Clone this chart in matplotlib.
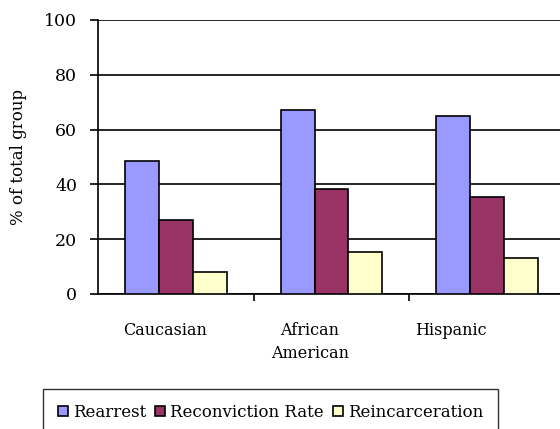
import numpy as np
import matplotlib
matplotlib.use("Agg")
import matplotlib.pyplot as plt

plt.rcParams['font.family'] = ['DejaVu Serif']

# Data
groups = ["Caucasian", "African\nAmerican", "Hispanic"]
series = ["Rearrest", "Reconviction Rate", "Reincarceration"]
rearrest = [48.6, 67.0, 64.8]
reconviction = [26.9, 38.4, 35.5]
reincarceration = [7.9, 15.2, 13.0]
colors = ["#9999FF", "#993366", "#FFFFCC"]

W, H = 560, 429
fig = plt.figure(figsize=(W / 100, H / 100), dpi=100)
ax = fig.add_axes([98 / W, 1 - 294 / H, (565 - 98) / W, (294 - 20) / H])

x = np.arange(len(groups))
bw = 0.218
for i, (vals, c, name) in enumerate(zip([rearrest, reconviction, reincarceration], colors, series)):
    ax.bar(x + (i - 1) * bw, vals, bw, color=c, edgecolor="black", linewidth=1.2,
           label=name, zorder=3)

ax.set_xlim(-0.5, 2.5)
ax.set_ylim(0, 100)
ax.set_yticks([0, 20, 40, 60, 80, 100])
ax.yaxis.grid(True, color="black", linewidth=1.2, zorder=0)
ax.set_axisbelow(True)

# category boundaries as ticks, labels sit a little left of the groups
ax.set_xticks([0.5, 1.5])
ax.set_xticklabels([])
label_shift = np.array([-0.07, -0.14, -0.23])
ax.set_xticks(x + label_shift, minor=True)
ax.set_xticklabels(groups, minor=True, fontsize=11.5, linespacing=1.5, va="top")
ax.tick_params(axis="x", which="minor", length=0, pad=20)
ax.tick_params(axis="x", which="major", length=5, width=1.2, direction="out")
ax.tick_params(axis="y", length=6, width=1.2, direction="out", labelsize=12.5, pad=9)

for s in ["top", "right"]:
    ax.spines[s].set_visible(False)
ax.spines["left"].set_linewidth(1.2)
ax.spines["bottom"].set_linewidth(1.2)

ax.set_ylabel("% of total group", fontsize=12, labelpad=12)

fig.legend(loc="upper left", bbox_to_anchor=(43 / W, 1 - 389 / H), ncol=3,
           frameon=True, fancybox=False, edgecolor="black", fontsize=12,
           handlelength=0.6, handleheight=0.6, handletextpad=0.3, columnspacing=0.55,
           borderpad=0.9, borderaxespad=0)

fig.savefig("out.png", dpi=100)
